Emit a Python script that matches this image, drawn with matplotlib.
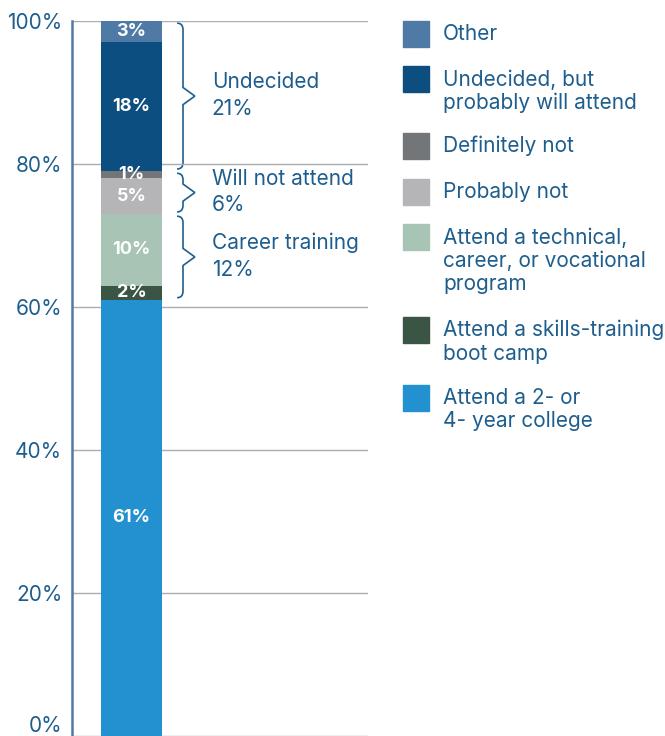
import matplotlib.pyplot as plt
from matplotlib.patches import Rectangle
from matplotlib.path import Path
from matplotlib.patches import PathPatch
import matplotlib.transforms as mtransforms
import numpy as np

plt.rcParams['font.family'] = ['Inter', 'DejaVu Sans']

# stacked from bottom to top
categories = ["Attend a 2- or\n4- year college",
              "Attend a skills-training\nboot camp",
              "Attend a technical,\ncareer, or vocational\nprogram",
              "Probably not",
              "Definitely not",
              "Undecided, but\nprobably will attend",
              "Other"]
values = [61, 2, 10, 5, 1, 18, 3]
colors = ["#2390D0", "#3A5544", "#A7C4B5", "#B5B5B7", "#737678", "#0C4E7F", "#4E7AA5"]

# groups: (label, first segment index, last segment index)
group_names = ["Career training\n12%", "Will not attend\n6%", "Undecided\n21%"]
group_spans = [(1, 2), (3, 4), (5, 6)]

text_color = "#1E5E8E"

fig = plt.figure(figsize=(6.65, 7.36), dpi=100)
W, H = 665, 736
ax = fig.add_axes([72 / W, 0, (368 - 72) / W, (736 - 21) / H])

bottoms = np.concatenate([[0], np.cumsum(values)[:-1]])
xc, bw = 0.201, 0.206
for v, b, c in zip(values, bottoms, colors):
    ax.bar(xc, v, bottom=b, width=bw, color=c, zorder=3)
    ax.text(xc, b + v / 2, f"{v}%", ha="center", va="center", color="white",
            fontsize=13, fontweight="bold", zorder=4)

ax.set_xlim(0, 1)
ax.set_ylim(0, 100)
yticks = [0, 20, 40, 60, 80, 100]
ax.set_yticks(yticks)
ax.set_yticklabels([f"{t}%" for t in yticks])
ax.tick_params(axis="y", length=0, pad=7, labelsize=15, labelcolor=text_color)
# keep the 0% label inside the canvas
lbl0 = ax.get_yticklabels()[0]
lbl0.set_transform(lbl0.get_transform() + mtransforms.ScaledTranslation(0, 12 / 100, fig.dpi_scale_trans))
ax.set_xticks([])
ax.grid(axis="y", color="#A9ADB0", linewidth=1, zorder=0)
for s in ["top", "right", "bottom"]:
    ax.spines[s].set_visible(False)
ax.spines["left"].set_color("#4E7AA5")
ax.spines["left"].set_linewidth(1.8)
ax.spines["left"].set_zorder(5)

# curly braces
trans = mtransforms.blended_transform_factory(ax.transAxes, ax.transData)
x0, x1, x2 = 0.355, 0.375, 0.415
for name, (i, j) in zip(group_names, group_spans):
    lo = bottoms[i] + 0.3
    hi = bottoms[j] + values[j] - 0.3
    mid = (lo + hi) / 2
    k = 0.9
    verts = [(x0, hi), (x1, hi), (x1, hi - k),
             (x1, mid + 1.2), (x2, mid), (x1, mid - 1.2),
             (x1, lo + k), (x1, lo), (x0, lo)]
    codes = [Path.MOVETO, Path.CURVE3, Path.CURVE3,
             Path.LINETO, Path.LINETO, Path.LINETO,
             Path.LINETO, Path.CURVE3, Path.CURVE3]
    ax.add_patch(PathPatch(Path(verts, codes), transform=trans, fill=False,
                           edgecolor=text_color, linewidth=1.2, clip_on=False))
    ax.text(0.472, mid + 0.1, name, transform=trans, ha="left", va="center",
            fontsize=15, color=text_color, linespacing=1.42)

# legend
legend_tops = [21, 66, 133, 179, 224, 317, 385]
for cat, c, top in zip(categories[::-1], colors[::-1], legend_tops):
    fig.patches.append(Rectangle((403 / W, 1 - (top + 26) / H), 26 / W, 26 / H,
                                 transform=fig.transFigure, color=c))
    fig.text(443 / W, 1 - (top + 3) / H, cat, ha="left", va="top",
             fontsize=15, color=text_color, linespacing=1.2)

fig.savefig("out.png", dpi=100)
